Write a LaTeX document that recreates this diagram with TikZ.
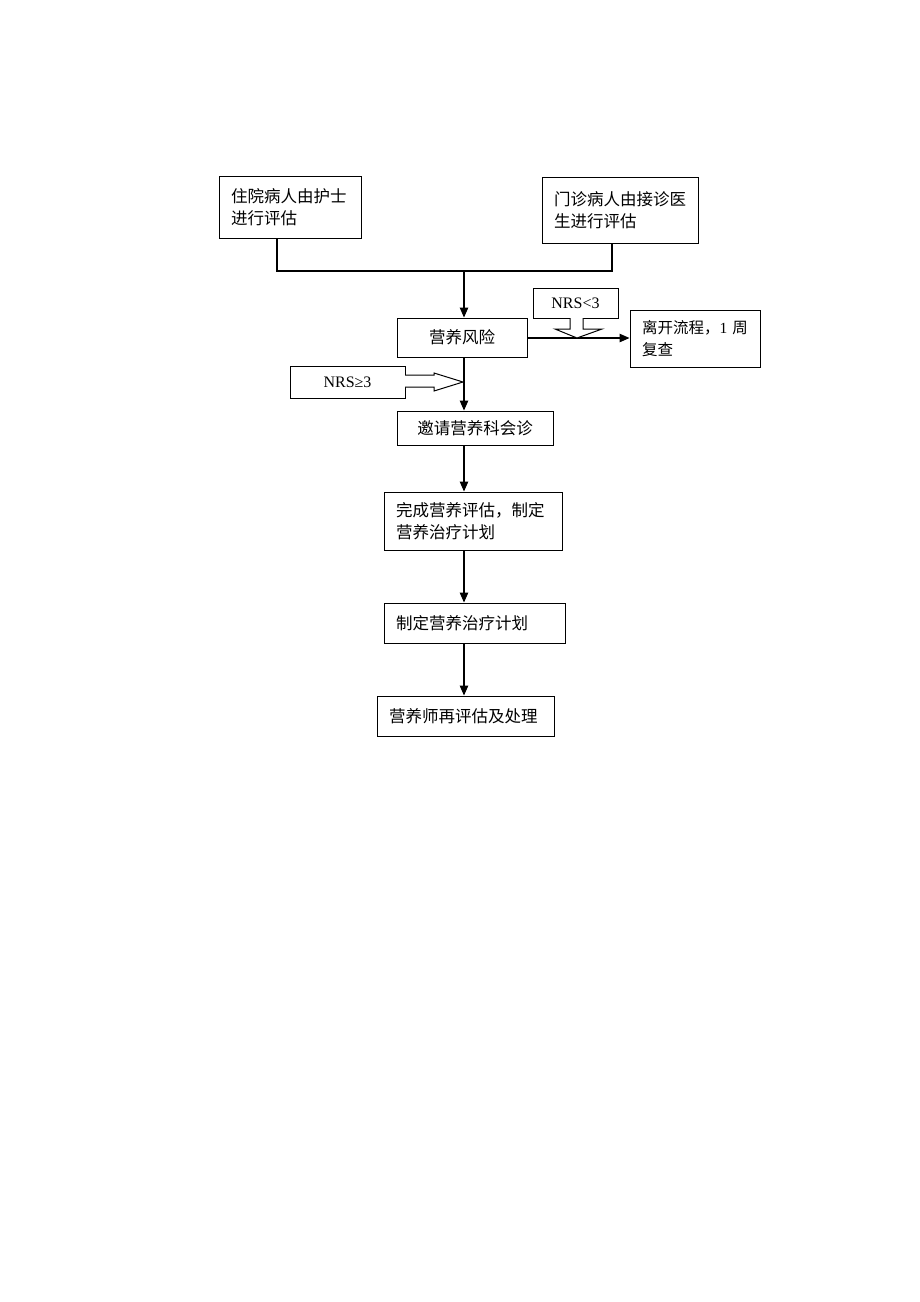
\documentclass[tikz,border=0pt]{standalone}
\usepackage{fontspec}
\setmainfont{Liberation Serif}
\newfontfamily\cjk{Noto Sans CJK SC}
\usetikzlibrary{arrows.meta}
\begin{document}
\begin{tikzpicture}[x=1pt,y=-1pt,
  box/.style={draw,line width=1pt,inner xsep=12pt,inner ysep=0pt,align=left,font=\fontsize{16.5}{22}\selectfont},
  cbox/.style={draw,line width=1pt,inner sep=0pt,align=center,font=\fontsize{16.5}{22}\selectfont},
  conn/.style={line width=1.2pt},
  arr/.style={line width=1.2pt,-{Triangle[length=10pt,width=8.5pt]}},
  blk/.style={draw,line width=1pt,fill=white}]
\useasboundingbox (0,0) rectangle (920,1302);
% boxes
\node[box,minimum width=142pt,minimum height=62pt,text width=118pt] (b1) at (290,207) {\cjk 住院病人由护士\\进行评估};
\node[box,minimum width=156pt,minimum height=66pt,text width=132pt] (b2) at (620,210) {\cjk 门诊病人由接诊医\\生进行评估};
\node[cbox,minimum width=130pt,minimum height=39pt] (risk) at (462,337.5) {\cjk 营养风险};
\node[cbox,minimum width=85pt,minimum height=30pt,font=\fontsize{16}{20}\selectfont] (lt) at (575.5,303) {NRS<3};
\node[box,minimum width=130pt,minimum height=57pt,text width=106pt,font=\fontsize{15.5}{22}\selectfont] (leave) at (695,338.5) {\mbox{{\cjk 离开流程，}1~{\cjk 周}}\\{\cjk 复查}};
\node[cbox,minimum width=115pt,minimum height=32pt,font=\fontsize{16}{20}\selectfont] (ge) at (347.5,382) {NRS≥3};
\node[cbox,minimum width=156pt,minimum height=34pt] (invite) at (475,428) {\cjk 邀请营养科会诊};
\node[box,minimum width=178pt,minimum height=58pt,text width=154pt] (done) at (473,521) {\cjk 完成营养评估，制定\\营养治疗计划};
\node[box,minimum width=181pt,minimum height=40pt,text width=157pt] (plan) at (474.5,623) {\cjk 制定营养治疗计划};
\node[box,minimum width=177pt,minimum height=40pt,text width=153pt] (re) at (465.5,716) {\cjk 营养师再评估及处理};
% connectors
\coordinate (jl) at (277,271);
\coordinate (jr) at (612,271);
\coordinate (jm) at (464,271);
\draw[conn] (jl |- b1.south) -- (jl) -- (jr) -- (jr |- b2.south);
\draw[arr] (jm) -- (jm |- risk.north);
\coordinate (hr) at (0,338);
\draw[arr] (hr -| risk.east) -- (hr -| leave.west);
\coordinate (sp) at (464,0);
\draw[arr] (sp |- risk.south) -- (sp |- invite.north);
\draw[arr] (sp |- invite.south) -- (sp |- done.north);
\draw[arr] (sp |- done.south) -- (sp |- plan.north);
\draw[arr] (sp |- plan.south) -- (sp |- re.north);
% block arrows
\draw[blk] (570,318) -- (570,329) -- (555,329) -- (577,338) -- (602,329) -- (583,329) -- (583,318);
\draw[blk] (405,375) -- (434,375) -- (434,373) -- (463,382) -- (434,391) -- (434,387) -- (405,387);
\end{tikzpicture}
\end{document}
